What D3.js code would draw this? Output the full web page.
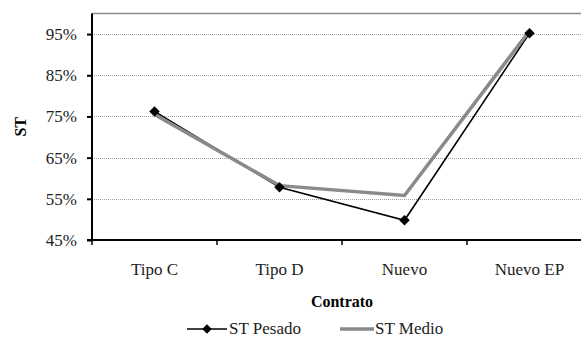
<!DOCTYPE html>
<html><head><meta charset="utf-8">
<script src="https://cdn.jsdelivr.net/npm/d3@7"></script>
</head><body style="margin:0">
<svg id="chart" width="581" height="345" style="display:block"></svg>
<script>
const categories = ["Tipo C", "Tipo D", "Nuevo", "Nuevo EP"];
const stPesado = [0.762, 0.578, 0.498, 0.952];
const stMedio = [0.755, 0.582, 0.558, 0.958];
const yTicks = [0.45, 0.55, 0.65, 0.75, 0.85, 0.95];

const W = 581, H = 345;
const FONT = 'Liberation Serif';

const svg = d3.select('#chart');

// plot area runs past the right edge, like the reference
const plot = { left: 92, top: 13.5, right: 592, bottom: 240 };

const x = d3.scaleBand()
    .domain(categories)
    .range([plot.left, plot.right]);

const y = d3.scaleLinear()
    .domain([0.45, 1.0])
    .range([plot.bottom, plot.top]);

// gridlines
svg.append('g')
    .selectAll('line')
    .data(yTicks.slice(1))
    .enter().append('line')
      .attr('x1', plot.left)
      .attr('x2', W)
      .attr('y1', d => Math.round(y(d)) + 0.5)
      .attr('y2', d => Math.round(y(d)) + 0.5)
      .attr('stroke', '#a0a0a0')
      .attr('stroke-width', 1)
      .attr('stroke-dasharray', '1,1');

// top border of the plot area
svg.append('line')
    .attr('x1', plot.left).attr('x2', W)
    .attr('y1', plot.top).attr('y2', plot.top)
    .attr('stroke', '#8c8c8c')
    .attr('stroke-width', 1.5);

// y axis
const yAxis = svg.append('g')
    .attr('transform', 'translate(' + plot.left + ',0)')
    .call(d3.axisLeft(y).tickValues(yTicks).tickSize(5).tickPadding(10)
        .tickFormat(d => Math.round(d * 100) + '%'));
yAxis.attr('font-family', FONT).attr('font-size', 17);
yAxis.select('.domain').attr('stroke', '#000').attr('stroke-width', 2)
    .attr('d', 'M0,' + plot.top + 'V' + plot.bottom);
yAxis.selectAll('.tick line').attr('stroke', '#000').attr('stroke-width', 2);
yAxis.selectAll('text')
    .attr('font-family', FONT)
    .attr('font-size', 17)
    .attr('fill', '#222');

// x axis
const xAxis = svg.append('g')
    .attr('transform', 'translate(0,' + plot.bottom + ')');
xAxis.append('line')
    .attr('x1', plot.left - 5).attr('x2', W)
    .attr('y1', 0).attr('y2', 0)
    .attr('stroke', '#000').attr('stroke-width', 2);
xAxis.selectAll('.xtick')
    .data(categories)
    .enter().append('line')
      .attr('x1', d => x(d)).attr('x2', d => x(d))
      .attr('y1', 0).attr('y2', 5)
      .attr('stroke', '#000').attr('stroke-width', 1.5);
xAxis.selectAll('text')
    .data(categories)
    .enter().append('text')
      .attr('x', d => x(d) + x.bandwidth() / 2)
      .attr('y', 35)
      .attr('text-anchor', 'middle')
      .attr('font-family', FONT)
      .attr('font-size', 17)
      .attr('fill', '#222')
      .text(d => d);

// axis titles
svg.append('text')
    .attr('transform', 'translate(26,' + ((plot.top + plot.bottom) / 2) + ') rotate(-90)')
    .attr('text-anchor', 'middle')
    .attr('font-family', FONT)
    .attr('font-size', 16)
    .attr('font-weight', 'bold')
    .text('ST');

svg.append('text')
    .attr('x', 342)
    .attr('y', 307)
    .attr('text-anchor', 'middle')
    .attr('font-family', FONT)
    .attr('font-size', 16)
    .attr('font-weight', 'bold')
    .text('Contrato');

// lines
const cx = d => x(d) + x.bandwidth() / 2;
const line = d3.line()
    .x(d => cx(d.cat))
    .y(d => y(d.v));

const pesadoPts = categories.map((c, i) => ({ cat: c, v: stPesado[i] }));
const medioPts = categories.map((c, i) => ({ cat: c, v: stMedio[i] }));

svg.append('path')
    .datum(pesadoPts)
    .attr('fill', 'none')
    .attr('stroke', '#000')
    .attr('stroke-width', 1.6)
    .attr('d', line);

svg.append('path')
    .datum(medioPts)
    .attr('fill', 'none')
    .attr('stroke', '#8a8a8a')
    .attr('stroke-width', 3.5)
    .attr('d', line);

svg.selectAll('.marker')
    .data(pesadoPts)
    .enter().append('path')
      .attr('class', 'marker')
      .attr('transform', d => 'translate(' + cx(d.cat) + ',' + y(d.v) + ') rotate(45)')
      .attr('d', d3.symbol().type(d3.symbolSquare).size(55))
      .attr('fill', '#000');

// legend
const legend = svg.append('g').attr('transform', 'translate(0,329)');
legend.append('line')
    .attr('x1', 187).attr('x2', 227).attr('y1', 0).attr('y2', 0)
    .attr('stroke', '#000').attr('stroke-width', 1.6);
legend.append('path')
    .attr('transform', 'translate(207,0) rotate(45)')
    .attr('d', d3.symbol().type(d3.symbolSquare).size(45))
    .attr('fill', '#000');
legend.append('text')
    .attr('x', 229).attr('y', 5)
    .attr('font-family', FONT)
    .attr('font-size', 17).attr('fill', '#222')
    .text('ST Pesado');
legend.append('line')
    .attr('x1', 340).attr('x2', 374).attr('y1', 0).attr('y2', 0)
    .attr('stroke', '#8a8a8a').attr('stroke-width', 3.5);
legend.append('text')
    .attr('x', 375).attr('y', 5)
    .attr('font-family', FONT)
    .attr('font-size', 17).attr('fill', '#222')
    .text('ST Medio');
</script>
</body></html>
